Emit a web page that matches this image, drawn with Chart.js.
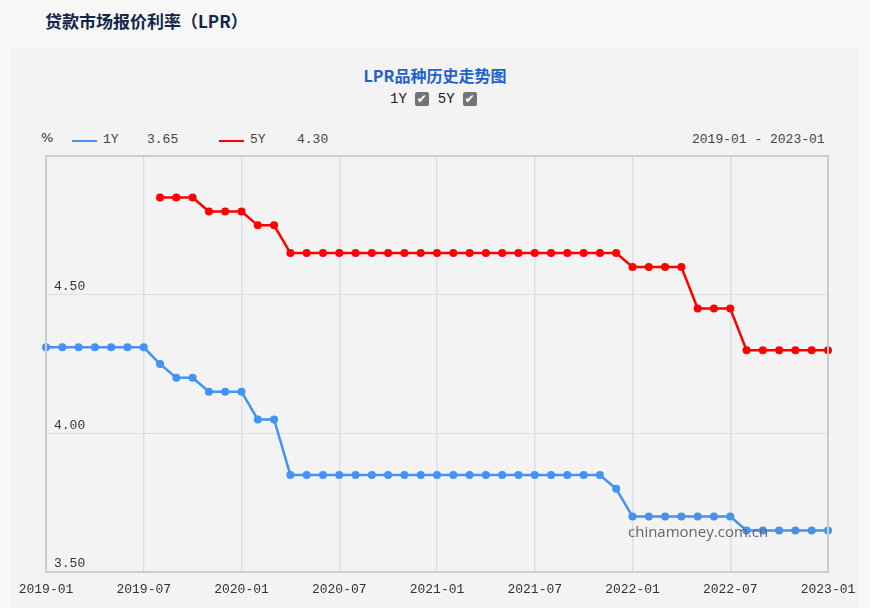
<!DOCTYPE HTML>
<html>
<head>
  <title>LPR</title>
  <meta charset="utf-8">
  <script src="https://cdn.jsdelivr.net/npm/chart.js"></script>
  <style>
    body { margin: 0; width: 870px; height: 608px; background: #f7f7f7; position: relative; overflow: hidden;
           font-family: "Noto Sans CJK SC", sans-serif; }
    .panel { position: absolute; left: 10px; top: 48px; width: 848px; height: 560px; background: #f3f3f3; }
    .head { position: absolute; left: 45px; top: 8px; font-size: 17px; font-weight: bold; color: #13264a; }
    .ctitle { position: absolute; left: 0; width: 870px; top: 63px; text-align: center; font-size: 16px; font-weight: bold; color: #1d62c9; }
    .checks { position: absolute; left: 390px; top: 91px; font-family: "Liberation Mono", monospace; font-size: 14px; color: #222; }
    .checks span { display: inline-block; vertical-align: middle; }
    .box { width: 14px; height: 14px; background: #737373; border-radius: 2px; color: #fff; font-size: 12px; line-height: 14px; text-align: center; font-family: "DejaVu Sans"; margin: 0 9px 0 8px; }
    .leg { position: absolute; top: 132px; font-family: "Liberation Mono", monospace; font-size: 13px; color: #444; }
    .line { position: absolute; top: 140px; width: 25px; height: 2px; }
    .mark { position: absolute; left: 628px; top: 521px; font-family: "Open Sans", sans-serif; font-size: 15px; color: #666; }
    canvas { position: absolute; left: 0; top: 0; }
  </style>
</head>
<body>
  <div class="panel"></div>
  <div class="head">贷款市场报价利率（LPR）</div>
  <div class="ctitle">LPR品种历史走势图</div>
  <div class="checks"><span>1Y</span><span class="box">✔</span><span>5Y</span><span class="box">✔</span></div>
  <div class="leg" style="left:41px;top:130px;font-family:'DejaVu Sans';font-size:13px;color:#333">%</div>
  <div class="line" style="left:72px;background:#4393f0"></div>
  <div class="leg" style="left:103px">1Y</div>
  <div class="leg" style="left:147px">3.65</div>
  <div class="line" style="left:219px;background:#ff0000"></div>
  <div class="leg" style="left:250px">5Y</div>
  <div class="leg" style="left:297px">4.30</div>
  <div class="leg" style="left:692px">2019-01 - 2023-01</div>
  <div style="position:absolute;left:0;top:0;width:870px;height:608px">
    <canvas id="lprChart" width="870" height="608"></canvas>
  </div>
  <div class="mark">chinamoney.com.cn</div>

  <script type="text/javascript">
    var months = [];
    for (let y = 2019; y <= 2023; y++) {
      for (let m = 1; m <= 12; m++) {
        if (y == 2023 && m > 1) break;
        months.push(y + "-" + (m < 10 ? "0" + m : m));
      }
    }

    // 2019-01 .. 2023-01
    var lpr1y = [4.31, 4.31, 4.31, 4.31, 4.31, 4.31, 4.31, 4.25, 4.20, 4.20, 4.15, 4.15,
                 4.15, 4.05, 4.05, 3.85, 3.85, 3.85, 3.85, 3.85, 3.85, 3.85, 3.85, 3.85,
                 3.85, 3.85, 3.85, 3.85, 3.85, 3.85, 3.85, 3.85, 3.85, 3.85, 3.85, 3.80,
                 3.70, 3.70, 3.70, 3.70, 3.70, 3.70, 3.70, 3.65, 3.65, 3.65, 3.65, 3.65,
                 3.65];
    var lpr5y = [null, null, null, null, null, null, null, 4.85, 4.85, 4.85, 4.80, 4.80,
                 4.80, 4.75, 4.75, 4.65, 4.65, 4.65, 4.65, 4.65, 4.65, 4.65, 4.65, 4.65,
                 4.65, 4.65, 4.65, 4.65, 4.65, 4.65, 4.65, 4.65, 4.65, 4.65, 4.65, 4.65,
                 4.60, 4.60, 4.60, 4.60, 4.45, 4.45, 4.45, 4.30, 4.30, 4.30, 4.30, 4.30,
                 4.30];
    var yTicks = [4.0, 4.5];

    var gridColor = '#dcdfe6';
    var tickFont = { family: 'Liberation Mono', size: 13 };

    var frame = {
      id: 'frame',
      afterDraw(chart) {
        const a = chart.chartArea, c = chart.ctx;
        c.save();
        c.strokeStyle = '#cccccc';
        c.lineWidth = 2;
        c.strokeRect(a.left, a.top, a.right - a.left, a.bottom - a.top);
        c.restore();
      }
    };

    new Chart(document.getElementById('lprChart'), {
      type: 'line',
      data: {
        labels: months,
        datasets: [
          { label: '1Y', data: lpr1y, borderColor: '#4393f0', backgroundColor: '#4393f0',
            borderWidth: 2.5, pointRadius: 4, pointBorderWidth: 0, tension: 0 },
          { label: '5Y', data: lpr5y, borderColor: '#ff0000', backgroundColor: '#ff0000',
            borderWidth: 2.5, pointRadius: 4, pointBorderWidth: 0, tension: 0 }
        ]
      },
      options: {
        responsive: false,
        animation: false,
        layout: { padding: { left: 46, right: 42, top: 156, bottom: 0 } },
        plugins: { legend: { display: false }, title: { display: false }, tooltip: { enabled: false } },
        scales: {
          x: {
            offset: false,
            afterFit(s) { s.height = 36; },
            border: { display: false },
            grid: {
              drawTicks: false,
              color: (ctx) => (ctx.index % 6 == 0 && ctx.index > 0 && ctx.index < months.length - 1) ? gridColor : 'rgba(0,0,0,0)',
              lineWidth: 1.5
            },
            ticks: {
              autoSkip: false, maxRotation: 0, padding: 10, color: '#333', font: tickFont,
              callback: (v, i) => (i % 6 == 0 ? months[i] : '')
            }
          },
          y: {
            min: 3.5, max: 5.0,
            afterFit(s) { s.width = 0; },
            afterBuildTicks(s) { s.ticks = [3.5, 4.0, 4.5, 5.0].map(v => ({ value: v })); },
            border: { display: false },
            grid: {
              drawTicks: false,
              color: (ctx) => yTicks.includes(ctx.tick.value) ? gridColor : 'rgba(0,0,0,0)',
              lineWidth: 1
            },
            ticks: {
              mirror: true, padding: 8, labelOffset: -8, color: '#333', font: tickFont,
              callback: (v) => (v < 4.9 ? v.toFixed(2) : '')
            }
          }
        }
      },
      plugins: [frame]
    });
  </script>
</body>
</html>
